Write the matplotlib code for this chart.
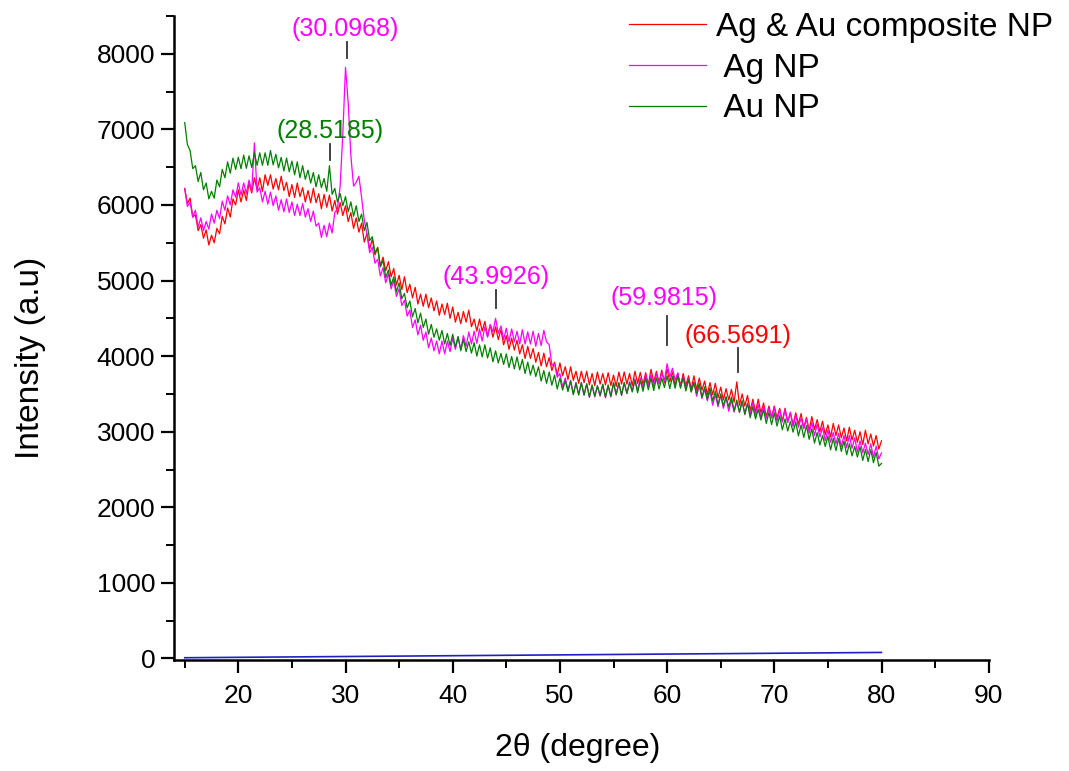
import numpy as np
import matplotlib
matplotlib.use("Agg")
import matplotlib.pyplot as plt
from matplotlib.ticker import MultipleLocator

# ---------------- data ----------------
two_theta = np.arange(15.0, 80.001, 0.25)

composite_np = [
    6220, 6020, 6090, 5840,
    5870, 5660, 5740, 5560,
    5670, 5470, 5600, 5500,
    5690, 5620, 5850, 5750,
    5960, 5840, 6080, 6000,
    6200, 6040, 6200, 6060,
    6290, 6160, 6360, 6200,
    6360, 6180, 6400, 6260,
    6400, 6210, 6350, 6200,
    6380, 6190, 6300, 6110,
    6270, 6100, 6290, 6110,
    6230, 6040, 6190, 6030,
    6220, 6030, 6150, 5950,
    6140, 5970, 6130, 5920,
    6060, 5880, 6030, 5860,
    5990, 5780, 5900, 5690,
    5830, 5640, 5760, 5510,
    5620, 5420, 5550, 5340,
    5440, 5190, 5310, 5130,
    5250, 5050, 5160, 4940,
    5070, 4880, 5050, 4840,
    4950, 4770, 4910, 4690,
    4820, 4660, 4820, 4640,
    4770, 4600, 4730, 4540,
    4690, 4550, 4700, 4500,
    4650, 4450, 4580, 4430,
    4590, 4450, 4610, 4390,
    4490, 4330, 4490, 4330,
    4460, 4260, 4410, 4250,
    4390, 4220, 4350, 4150,
    4270, 4090, 4240, 4080,
    4210, 4030, 4150, 3970,
    4130, 3970, 4100, 3920,
    4050, 3870, 4040, 3860,
    3980, 3810, 3920, 3750,
    3910, 3740, 3860, 3690,
    3860, 3680, 3800, 3640,
    3800, 3650, 3800, 3620,
    3770, 3610, 3790, 3630,
    3770, 3620, 3780, 3610,
    3750, 3600, 3790, 3630,
    3790, 3630, 3770, 3610,
    3800, 3640, 3785, 3625,
    3780, 3620, 3825, 3655,
    3800, 3650, 3815, 3645,
    3830, 3660, 3790, 3610,
    3770, 3610, 3770, 3610,
    3740, 3560, 3740, 3560,
    3710, 3550, 3670, 3490,
    3650, 3490, 3640, 3450,
    3590, 3420, 3570, 3420,
    3560, 3390, 3660, 3350,
    3500, 3340, 3480, 3280,
    3430, 3260, 3430, 3250,
    3380, 3200, 3340, 3190,
    3340, 3180, 3310, 3140,
    3310, 3130, 3250, 3090,
    3250, 3100, 3240, 3050,
    3190, 3020, 3200, 3030,
    3160, 3000, 3140, 2960,
    3090, 2930, 3110, 2950,
    3090, 2920, 3050, 2880,
    3060, 2890, 3020, 2860,
    3000, 2830, 3020, 2840,
    2970, 2810, 2950, 2770,
    2880,
]

ag_np = [
    6210, 5980, 6040, 5840,
    5930, 5710, 5830, 5660,
    5780, 5680, 5880, 5760,
    5930, 5820, 6050, 5930,
    6120, 6000, 6200, 6100,
    6290, 6130, 6290, 6150,
    6330, 6180, 6820, 6170,
    6230, 6040, 6180, 6010,
    6170, 5990, 6120, 5930,
    6070, 5910, 6080, 5900,
    6040, 5860, 6010, 5860,
    6020, 5840, 5950, 5780,
    5920, 5720, 5760, 5570,
    5730, 5580, 5760, 5630,
    5900, 5950, 6250, 6950,
    7820, 7350, 6650, 6250,
    6300, 6380, 6100, 5800,
    5620, 5370, 5440, 5230,
    5280, 5060, 5170, 4970,
    5090, 4890, 5000, 4790,
    4890, 4670, 4740, 4530,
    4610, 4380, 4480, 4280,
    4410, 4210, 4320, 4110,
    4240, 4070, 4200, 4030,
    4200, 4030, 4200, 4060,
    4240, 4090, 4250, 4090,
    4270, 4130, 4320, 4160,
    4330, 4170, 4360, 4200,
    4390, 4250, 4420, 4320,
    4500, 4300, 4400, 4220,
    4370, 4190, 4360, 4190,
    4330, 4160, 4350, 4160,
    4320, 4160, 4330, 4130,
    4300, 4140, 4340, 4190,
    4150, 3880, 3900, 3720,
    3770, 3590, 3710, 3550,
    3680, 3500, 3650, 3490,
    3650, 3485, 3630, 3455,
    3610, 3460, 3600, 3470,
    3620, 3450, 3610, 3460,
    3640, 3485, 3640, 3480,
    3650, 3510, 3660, 3540,
    3700, 3540, 3710, 3570,
    3750, 3600, 3760, 3600,
    3770, 3630, 3780, 3670,
    3900, 3730, 3840, 3680,
    3780, 3590, 3730, 3560,
    3710, 3530, 3660, 3470,
    3610, 3440, 3560, 3410,
    3540, 3350, 3490, 3330,
    3480, 3310, 3450, 3270,
    3420, 3260, 3390, 3260,
    3400, 3225, 3380, 3225,
    3390, 3220, 3360, 3190,
    3340, 3180, 3310, 3180,
    3320, 3140, 3290, 3130,
    3290, 3120, 3260, 3070,
    3220, 3060, 3180, 3040,
    3170, 2980, 3120, 2950,
    3100, 2930, 3060, 2880,
    3020, 2860, 2990, 2840,
    2980, 2800, 2950, 2790,
    2950, 2780, 2920, 2730,
    2880, 2720, 2850, 2700,
    2840, 2660, 2810, 2640,
    2720,
]

au_np = [
    7090, 6800, 6720, 6480,
    6520, 6310, 6430, 6200,
    6290, 6080, 6180, 6090,
    6330, 6240, 6470, 6360,
    6570, 6420, 6620, 6470,
    6630, 6480, 6660, 6485,
    6650, 6495, 6690, 6525,
    6690, 6525, 6690, 6525,
    6720, 6530, 6670, 6490,
    6630, 6450, 6620, 6440,
    6580, 6400, 6570, 6360,
    6520, 6340, 6460, 6290,
    6430, 6240, 6400, 6230,
    6350, 6180, 6520, 6140,
    6220, 6040, 6150, 5990,
    6110, 5910, 6040, 5850,
    5990, 5780, 5880, 5660,
    5770, 5530, 5580, 5370,
    5430, 5180, 5270, 5040,
    5140, 4940, 5050, 4850,
    4970, 4760, 4830, 4640,
    4730, 4520, 4630, 4440,
    4570, 4380, 4490, 4290,
    4420, 4250, 4360, 4210,
    4340, 4160, 4300, 4140,
    4290, 4120, 4260, 4070,
    4220, 4060, 4190, 4040,
    4180, 4000, 4150, 3990,
    4150, 3975, 4110, 3925,
    4070, 3910, 4035, 3890,
    4030, 3850, 3995, 3830,
    3990, 3820, 3955, 3770,
    3920, 3750, 3880, 3730,
    3860, 3670, 3810, 3640,
    3790, 3615, 3750, 3565,
    3710, 3550, 3675, 3530,
    3670, 3490, 3645, 3485,
    3650, 3485, 3635, 3460,
    3620, 3470, 3610, 3480,
    3630, 3460, 3620, 3470,
    3650, 3495, 3650, 3485,
    3650, 3505, 3650, 3525,
    3680, 3515, 3680, 3535,
    3710, 3555, 3710, 3545,
    3710, 3565, 3710, 3585,
    3740, 3570, 3730, 3575,
    3740, 3575, 3715, 3540,
    3690, 3525, 3650, 3505,
    3640, 3455, 3595, 3430,
    3580, 3405, 3540, 3355,
    3500, 3340, 3465, 3325,
    3460, 3275, 3420, 3255,
    3410, 3235, 3370, 3185,
    3330, 3170, 3295, 3155,
    3290, 3110, 3255, 3095,
    3250, 3075, 3210, 3025,
    3170, 3010, 3135, 2995,
    3130, 2945, 3090, 2925,
    3080, 2900, 3035, 2850,
    2990, 2825, 2950, 2805,
    2940, 2760, 2910, 2750,
    2910, 2740, 2875, 2695,
    2840, 2680, 2805, 2665,
    2800, 2620, 2765, 2605,
    2760, 2590, 2725, 2545,
    2580,
]

baseline_x = [15, 80]
baseline_y = [10, 80]

series_labels = ["Ag & Au composite NP", " Ag NP", " Au NP"]
series_colors = ["#ff0000", "#ff00ff", "#008000"]

peak_x = [30.0968, 28.5185, 43.9926, 59.9815, 66.5691]
peak_labels = ["(30.0968)", "(28.5185)", "(43.9926)", "(59.9815)", "(66.5691)"]
peak_colors = ["#ff00ff", "#008000", "#ff00ff", "#ff00ff", "#ff0000"]
peak_text_x = [29.97, 28.57, 44.07, 59.75, 66.57]
peak_text_y = [8330, 6984, 5053, 4775, 4272]
peak_tick_top = [8160, 6800, 4880, 4537, 4114]
peak_tick_bot = [7950, 6600, 4640, 4153, 3796]

x_ticks = [20, 30, 40, 50, 60, 70, 80, 90]
y_ticks = [0, 1000, 2000, 3000, 4000, 5000, 6000, 7000, 8000]

# ---------------- plot ----------------
plt.rcParams['font.family'] = ['Liberation Sans', 'DejaVu Sans']

fig = plt.figure(figsize=(10.69, 7.71), dpi=100)
ax = fig.add_axes([174/1069, 1 - 660/771, (988.7 - 174)/1069, (660 - 16)/771])

ax.plot(baseline_x, baseline_y, color="#2020c0", lw=1.2)
for ys, lab, col in zip([composite_np, ag_np, au_np], series_labels, series_colors):
    ax.plot(two_theta, ys, color=col, lw=0.9, label=lab)

for px, lab, col, tx, ty, t1, t0 in zip(peak_x, peak_labels, peak_colors,
                                       peak_text_x, peak_text_y,
                                       peak_tick_top, peak_tick_bot):
    ax.text(tx, ty, lab, color=col, fontsize=18, ha="center", va="center")
    ax.plot([px, px], [t0, t1], color="#333333", lw=1.3)

ax.set_xlim(14, 90)
ax.set_ylim(-20, 8500)
ax.set_xticks(x_ticks)
ax.set_yticks(y_ticks)
ax.xaxis.set_minor_locator(MultipleLocator(5))
ax.yaxis.set_minor_locator(MultipleLocator(500))

for s in ["top", "right"]:
    ax.spines[s].set_visible(False)
for s in ["left", "bottom"]:
    ax.spines[s].set_linewidth(1.8)

ax.tick_params(which="major", direction="out", length=9.5, width=1.6, labelsize=19)
ax.tick_params(axis="y", which="major", pad=4)
ax.tick_params(axis="x", which="major", pad=8)
ax.tick_params(which="minor", direction="out", length=5.5, width=1.4)

ax.set_ylabel("Intensity (a.u)", fontsize=24)
ax.yaxis.label.set_va("center")
ax.yaxis.set_label_coords(-(174 - 30)/814.7, 1 - (358 - 16)/644)
ax.set_xlabel("2\u03b8 (degree)", fontsize=23)
ax.xaxis.label.set_va("center")
ax.xaxis.set_label_coords((578 - 174)/814.7, -(748 - 660)/644)

leg = ax.legend(loc="upper left", bbox_to_anchor=(629/1069, 1 - 12/771),
                bbox_transform=fig.transFigure, frameon=False,
                fontsize=24, handlelength=2.3, handletextpad=0.3,
                labelspacing=0.29, borderpad=0, borderaxespad=0)

fig.savefig("out.png", dpi=100)
